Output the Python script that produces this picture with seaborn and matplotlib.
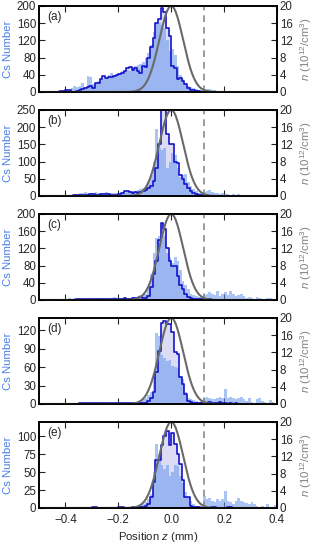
import numpy as np
import pandas as pd
import matplotlib
matplotlib.use("Agg")
import matplotlib.pyplot as plt
import seaborn as sns

sns.set_style("ticks")
plt.rcParams['font.family'] = ['Liberation Sans', 'DejaVu Sans']
plt.rcParams['mathtext.fontset'] = 'custom'
plt.rcParams['mathtext.rm'] = 'Liberation Sans'
plt.rcParams['mathtext.it'] = 'Liberation Sans:italic'

# ---- data ----
bin_start = -0.5
bin_stop = 0.4
bin_width = 0.01

panel_labels = ["(a)", "(b)", "(c)", "(d)", "(e)"]
ylims = [200, 250, 200, 140, 120]
yticks = [[0, 40, 80, 120, 160, 200],
          [0, 50, 100, 150, 200, 250],
          [0, 40, 80, 120, 160, 200],
          [0, 30, 60, 90, 120],
          [0, 25, 50, 75, 100]]
right_ticks = [0, 4, 8, 12, 16, 20]
xticks = [-0.4, -0.2, 0.0, 0.2, 0.4]
xtick_labels = ["\u22120.4", "\u22120.2", "0.0", "0.2", "0.4"]

# dark-outlined histogram (counts per 0.01 mm bin, z from -0.50 to 0.39)
outline_a = [0,0,0,0,0,0,0,0,2,2,
             5,5,0,0,3,5,8,10,12,15,
             10,20,20,30,38,32,35,36,38,40,
             42,44,48,55,58,52,56,48,45,60,
             58,80,105,125,160,170,195,185,150,130,
             60,55,30,32,25,18,10,5,5,3,
             2,0,0,0,0,0,0,0,0,0,
             0,0,0,0,0,0,0,0,0,0,
             0,0,0,0,0,0,0,0,0,0]
outline_b = [0,0,0,0,0,0,0,0,0,0,
             0,0,0,2,2,3,3,3,4,5,
             5,4,3,5,5,5,6,4,3,2,
             6,10,15,14,12,10,12,10,12,15,
             18,22,30,45,80,150,260,260,180,150,
             150,100,95,60,50,35,22,15,10,6,
             4,3,2,1,0,0,0,0,0,0,
             0,0,0,0,0,0,0,0,0,0,
             0,0,0,0,0,0,0,0,0,0]
outline_c = [0,0,0,0,0,0,0,0,0,0,
             0,0,0,0,2,2,2,2,3,2,
             2,3,2,3,3,2,2,3,3,3,
             3,3,4,3,3,5,5,4,8,5,
             5,10,30,60,90,140,180,165,120,90,
             80,80,55,35,25,15,8,5,3,2,
             2,2,3,2,2,1,1,1,0,0,
             0,0,0,0,0,0,0,0,0,0,
             0,0,0,0,0,0,0,0,0,0]
outline_d = [0,0,0,0,0,0,0,0,0,0,
             0,0,0,0,0,1,1,1,1,1,
             1,1,2,1,1,2,1,1,2,1,
             1,2,1,1,1,2,1,1,2,1,
             2,5,10,19,52,87,132,135,130,130,
             117,85,82,44,33,16,5,3,2,1,
             1,1,2,1,3,1,2,1,3,1,
             1,0,1,0,1,0,0,0,0,0,
             0,0,0,0,0,0,0,0,0,0]
outline_e = [0,0,0,0,0,0,0,0,0,0,
             0,0,0,0,0,0,0,0,0,0,
             1,1,0,0,0,0,0,0,0,0,
             1,1,0,0,0,1,1,1,2,2,
             3,6,15,36,67,67,88,100,107,88,
             105,90,76,62,39,15,15,3,2,1,
             1,0,0,0,0,1,1,0,0,0,
             0,1,1,0,0,0,0,0,0,0,
             0,0,0,0,0,0,0,0,0,0]

# light blue filled histogram
light_a = [3,3,2,3,3,2,3,5,3,5,
           8,5,10,15,12,15,20,12,38,35,
           18,22,25,28,30,32,40,45,40,42,
           45,48,50,52,50,55,60,62,65,70,
           78,90,110,140,160,160,155,150,120,95,
           100,85,60,40,30,20,15,12,10,8,
           5,5,6,8,7,5,4,3,3,2,
           2,1,2,1,2,3,3,2,1,1,
           1,0,1,1,0,1,0,0,1,0]
light_b = [2,2,2,2,2,2,3,2,3,2,
           3,3,4,5,5,8,10,12,10,8,
           10,12,8,10,8,12,10,10,8,10,
           8,12,10,12,15,12,15,18,20,22,
           30,40,60,100,195,140,135,140,80,100,
           125,120,80,55,60,65,40,30,20,15,
           10,8,12,15,18,12,10,8,6,8,
           5,5,4,6,3,5,3,4,2,3,
           3,2,2,4,2,1,2,1,1,1]
light_c = [1,1,1,1,2,1,2,3,2,2,
           3,5,3,4,3,4,2,3,4,3,
           5,3,4,4,5,3,5,4,6,5,
           5,4,6,5,5,6,8,10,12,15,
           15,30,60,110,145,150,140,150,110,100,
           85,100,90,70,45,35,25,15,12,10,
           8,10,12,15,18,15,12,20,10,15,
           18,12,20,15,10,12,15,10,5,8,
           5,3,6,4,2,3,5,4,1,2]
light_d = [1,1,1,1,1,1,2,1,1,1,
           1,1,1,2,1,1,2,2,1,1,
           2,1,2,1,2,2,1,2,2,1,
           2,2,2,3,2,3,3,4,5,8,
           10,15,20,45,115,110,80,75,70,72,
           62,60,58,45,40,20,10,8,6,5,
           4,5,10,12,10,8,8,10,12,10,
           25,10,12,10,8,10,12,8,5,10,
           3,0,8,10,5,3,1,6,4,1]
light_e = [0,0,0,0,0,0,0,0,0,0,
           0,0,0,0,0,1,1,1,0,1,
           1,2,1,2,1,1,1,1,2,1,
           1,2,2,1,2,2,3,3,4,6,
           8,12,20,50,90,75,60,55,60,45,
           50,60,58,45,35,22,15,10,5,3,
           3,3,17,12,14,10,8,12,10,12,
           24,10,8,6,10,14,10,8,7,6,
           8,5,3,2,3,1,5,2,1,4]

outlines = [outline_a, outline_b, outline_c, outline_d, outline_e]
lights = [light_a, light_b, light_c, light_d, light_e]

# density fit curve parameters (right axis)
gauss_peak = 20.0
gauss_center = 0.0
gauss_sigma = 0.045
cut_position = 0.125

# ---- figure ----
n_bins = len(outline_a)
centers = bin_start + bin_width * (np.arange(n_bins) + 0.5)
zgrid = np.linspace(-0.5, 0.4, 600)
dens = gauss_peak * np.exp(-0.5 * ((zgrid - gauss_center) / gauss_sigma) ** 2)

fig = plt.figure(figsize=(3.21, 5.43), dpi=100)
left, right = 39 / 321, 277 / 321
tops = [6, 110, 214, 318, 422]
h = 86

lav = '#dcdcf5'
light_col = '#6495ED'
dark_col = '#1414c8'
gray = '#6a6a6a'
fs_tick = 8.3
fs_lab = 8.2
hist_kw = dict(binwidth=bin_width, binrange=(bin_start, bin_stop), element="step")

for i in range(5):
    top = tops[i]
    ax = fig.add_axes([left, 1 - (top + h) / 543, right - left, h / 543])
    df = pd.DataFrame({"z": centers, "A": outlines[i], "B": lights[i]})
    sns.histplot(data=df, x="z", weights="A", fill=True, color=lav, alpha=1.0,
                 linewidth=0, ax=ax, **hist_kw)
    sns.histplot(data=df, x="z", weights="B", fill=True, color=light_col,
                 alpha=0.55, linewidth=0, ax=ax, **hist_kw)
    sns.histplot(data=df, x="z", weights="A", fill=False, color=dark_col,
                 linewidth=1.2, ax=ax, **hist_kw)
    ax.axvline(cut_position, color='#8a8a8a', ls=(0, (4, 3)), lw=1.2, zorder=5)
    ax.set_xlim(-0.5, 0.4)
    ax.set_ylim(0, ylims[i])
    ax.set_yticks(yticks[i])
    ax.set_xticks(xticks)
    ax.tick_params(axis='both', direction='in', length=4, width=0.8,
                   labelsize=fs_tick, pad=2)
    ax.tick_params(axis='x', top=True, pad=4.5)
    ax.set_ylabel("Cs Number", color='#4a7de6', fontsize=fs_lab, labelpad=3)
    if i < 4:
        ax.set_xticklabels([])
        ax.set_xlabel("")
    else:
        ax.set_xticklabels(xtick_labels)
        ax.set_xlabel("Position $z$ (mm)", fontsize=fs_lab, labelpad=2.5)
    for s in ax.spines.values():
        s.set_linewidth(1.2)
        s.set_color('black')
    ax.text(0.035, 0.87, panel_labels[i], transform=ax.transAxes,
            fontsize=8.5, ha='left', va='center')

    ax2 = ax.twinx()
    sns.lineplot(x=zgrid, y=dens, ax=ax2, color=gray, lw=1.5)
    ax2.set_ylim(0, 20)
    ax2.set_yticks(right_ticks)
    ax2.tick_params(axis='y', direction='in', length=4, width=0.8,
                    labelsize=fs_tick, pad=2)
    for lbl in ax2.get_yticklabels():
        lbl.set_verticalalignment('center_baseline')
    ax2.set_ylabel("$n$ (10$^{12}$/cm$^3$)", color='#808080', fontsize=fs_lab,
                   labelpad=4)
    for s in ax2.spines.values():
        s.set_linewidth(1.2)
        s.set_color('black')

fig.savefig("out.png", dpi=100)
